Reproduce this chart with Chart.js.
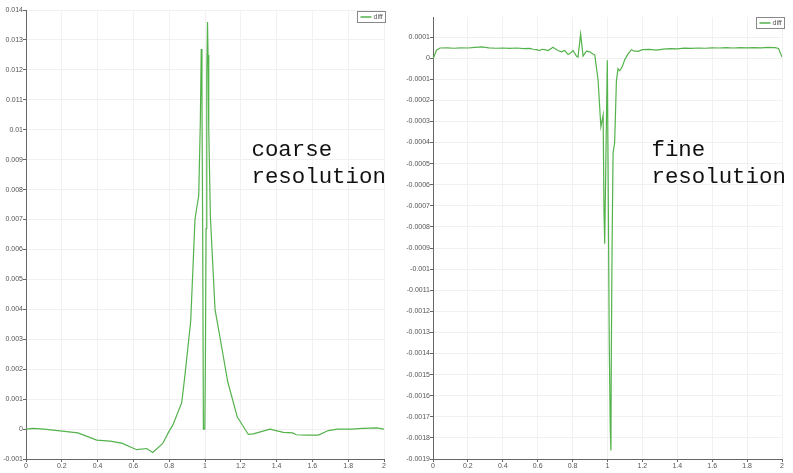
<!DOCTYPE html>
<html><head><meta charset="utf-8">
<script src="https://cdn.jsdelivr.net/npm/chart.js@4.4.1/dist/chart.umd.min.js"></script>
<style>
html,body{margin:0;padding:0;background:#fff;}
#wrap{position:relative;width:793px;height:473px;overflow:hidden;background:#fff;}
canvas{position:absolute;top:0;}
#c1{left:0}
#c2{left:396px}
.note{position:absolute;font-family:"Liberation Mono",monospace;font-size:22.4px;line-height:26.6px;color:#111;white-space:nowrap;}
</style></head><body>
<div id="wrap">
<canvas id="c1" width="396" height="473"></canvas>
<canvas id="c2" width="397" height="473"></canvas>
<div class="note" style="left:251.5px;top:137.3px">coarse<br>resolution</div>
<div class="note" style="left:651.5px;top:137.3px">fine<br>resolution</div>
</div>
<script>
const seriesLabel = 'diff';
const xTicks = [0, 0.2, 0.4, 0.6, 0.8, 1, 1.2, 1.4, 1.6, 1.8, 2];
const coarseYTicks = [-0.001, 0, 0.001, 0.002, 0.003, 0.004, 0.005, 0.006, 0.007, 0.008, 0.009, 0.01, 0.011, 0.012, 0.013, 0.014];
const fineYTicks = [-0.0019, -0.0018, -0.0017, -0.0016, -0.0015, -0.0014, -0.0013, -0.0012, -0.0011, -0.001, -0.0009, -0.0008, -0.0007, -0.0006, -0.0005, -0.0004, -0.0003, -0.0002, -0.0001, 0, 0.0001];

const coarseX = [0, 0.04, 0.1, 0.19, 0.29, 0.395, 0.47, 0.535, 0.618, 0.674, 0.708, 0.764, 0.795, 0.82, 0.87, 0.888, 0.92, 0.935, 0.944, 0.954, 0.965, 0.974, 0.979, 0.983, 0.987, 0.991, 0.999, 1.002, 1.006, 1.010, 1.014, 1.017, 1.021, 1.030, 1.056, 1.093, 1.127, 1.18, 1.242, 1.27, 1.363, 1.437, 1.49, 1.51, 1.57, 1.633, 1.689, 1.74, 1.82, 1.88, 1.96, 2];
const coarseY = [0, 0.00002, 0, -0.00006, -0.00013, -0.00037, -0.0004, -0.00047, -0.00069, -0.00065, -0.00078, -0.00048, -0.00012, 0.00013, 0.00088, 0.0018, 0.0036, 0.0057, 0.0070, 0.0074, 0.0078, 0.0103, 0.0127, 0.0110, 0.0067, 0, 0, 0.0021, 0.0067, 0.0119, 0.0136, 0.0125, 0.0100, 0.0071, 0.0040, 0.00275, 0.00158, 0.00041, -0.00018, -0.00016, 0, -0.00011, -0.00013, -0.00019, -0.0002, -0.0002, -0.00005, 0, 0, 0.00002, 0.00004, 0];

const fineX = [0, 0.02, 0.04, 0.08, 0.12, 0.16, 0.2, 0.24, 0.28, 0.32, 0.36, 0.4, 0.44, 0.48, 0.52, 0.554, 0.575, 0.593, 0.61, 0.625, 0.64, 0.66, 0.675, 0.688, 0.7, 0.716, 0.736, 0.755, 0.774, 0.79, 0.802, 0.822, 0.831, 0.846, 0.86, 0.879, 0.898, 0.917, 0.927, 0.946, 0.962, 0.975, 0.98, 0.984, 0.992, 0.999, 1.004, 1.01, 1.016, 1.0195, 1.022, 1.026, 1.032, 1.041, 1.051, 1.06, 1.07, 1.085, 1.099, 1.118, 1.137, 1.155, 1.175, 1.2, 1.24, 1.28, 1.32, 1.36, 1.4, 1.44, 1.48, 1.52, 1.56, 1.6, 1.64, 1.68, 1.72, 1.76, 1.8, 1.84, 1.88, 1.92, 1.96, 1.98, 2];
const fineY = [-0.000005, 0.000038, 0.000048, 0.000049, 0.000047, 0.000049, 0.000048, 0.000051, 0.000053, 0.000049, 0.000047, 0.000048, 0.000046, 0.000048, 0.000045, 0.000046, 0.000042, 0.00004, 0.000036, 0.000042, 0.00004, 0.000036, 0.000045, 0.000052, 0.000044, 0.000036, 0.00003, 0.000036, 0.000017, 0.000025, 0.000036, 0.00001, 0.000005, 0.000115, 0.00001, 0.000033, 0.00003, 0.00002, 0.000015, -0.000104, -0.000325, -0.00027, -0.00073, -0.00088, -0.0004, -0.00001, -0.0006, -0.00135, -0.00176, -0.00186, -0.0014, -0.00091, -0.00045, -0.0004, -0.00011, -0.00005, -0.00006, -0.00004, -0.000007, 0.00002, 0.00004, 0.000033, 0.000032, 0.00004, 0.000042, 0.000038, 0.000043, 0.000045, 0.000044, 0.000047, 0.000046, 0.000048, 0.000047, 0.000049, 0.000048, 0.00005, 0.000048, 0.00005, 0.000049, 0.00005, 0.000049, 0.000051, 0.00005, 0.000046, 0.000005];

const boxLegend = {
  id: 'boxLegend',
  afterDraw(chart, args, opts) {
    const ctx = chart.ctx, a = chart.chartArea;
    const ds = chart.data.datasets[0];
    const w = 28, h = 11;
    const x = Math.round(a.right + opts.dx - w) + 0.5;
    const y = Math.round(a.top + opts.dy) + 0.5;
    ctx.save();
    ctx.fillStyle = '#fff';
    ctx.fillRect(x, y, w, h);
    ctx.strokeStyle = '#888';
    ctx.lineWidth = 1;
    ctx.strokeRect(x, y, w, h);
    ctx.strokeStyle = ds.borderColor;
    ctx.lineWidth = 1.5;
    ctx.beginPath();
    ctx.moveTo(x + 3, y + h / 2);
    ctx.lineTo(x + 14, y + h / 2);
    ctx.stroke();
    ctx.fillStyle = '#555';
    ctx.font = '7px "Liberation Sans", Arial, sans-serif';
    ctx.textBaseline = 'middle';
    ctx.textAlign = 'left';
    ctx.fillText(ds.label, x + 16, y + h / 2);
    ctx.restore();
  }
};

function fmt(v, p) {
  const r = Math.round(v * p) / p;
  return String(r === 0 ? 0 : r);
}

function makeChart(id, xs, ys, yTicks, yMin, yMax, yWidth, padTop, padRight, legDx, legDy, prec) {
  const tickFont = { family: '"Liberation Sans", Arial, sans-serif', size: 7 };
  return new Chart(document.getElementById(id), {
    type: 'line',
    data: {
      datasets: [{
        label: seriesLabel,
        data: xs.map((x, i) => ({ x: x, y: ys[i] })),
        borderColor: 'rgb(84,178,76)',
        borderWidth: 1.2,
        pointRadius: 0,
        tension: 0,
        fill: false
      }]
    },
    options: {
      responsive: false,
      animation: false,
      devicePixelRatio: 1,
      layout: { padding: { top: padTop, right: padRight, left: 0, bottom: 0 } },
      plugins: {
        legend: { display: false },
        tooltip: { enabled: false },
        boxLegend: { dx: legDx, dy: legDy }
      },
      scales: {
        x: {
          type: 'linear',
          min: 0, max: 2,
          afterBuildTicks: s => { s.ticks = xTicks.map(v => ({ value: v })); },
          afterFit: s => { s.height = 14; },
          grid: { color: '#f1f1f1', lineWidth: 1, tickLength: 3, tickColor: '#666', drawTicks: true },
          border: { color: '#666', width: 1 },
          ticks: { font: tickFont, color: '#555', padding: 0, autoSkip: false, maxRotation: 0,
                   callback: v => fmt(v, 10) }
        },
        y: {
          type: 'linear',
          min: yMin, max: yMax,
          afterBuildTicks: s => { s.ticks = yTicks.map(v => ({ value: v })); },
          afterFit: s => { s.width = yWidth; },
          grid: { color: '#f1f1f1', lineWidth: 1, tickLength: 3, tickColor: '#666', drawTicks: true },
          border: { color: '#666', width: 1 },
          ticks: { font: tickFont, color: '#555', padding: 0, autoSkip: false,
                   callback: v => fmt(v, prec) }
        }
      }
    },
    plugins: [boxLegend]
  });
}

makeChart('c1', coarseX, coarseY, coarseYTicks, -0.001, 0.014, 26, 10, 12, 1, 1, 1e6);
makeChart('c2', fineX, fineY, fineYTicks, -0.0019, 0.000195, 37, 17, 11, 2, 0, 1e7);
</script>
</body></html>
